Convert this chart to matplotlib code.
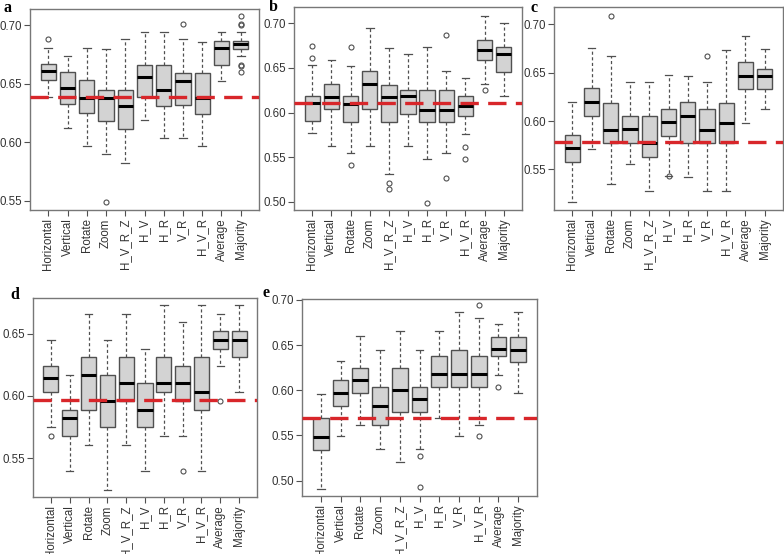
import matplotlib.pyplot as plt

plt.rcParams['font.family'] = ['Liberation Sans', 'DejaVu Sans']

methods = ['Horizontal', 'Vertical', 'Rotate', 'Zoom', 'H_V_R_Z', 'H_V',
           'H_R', 'V_R', 'H_V_R', 'Average', 'Majority']

# panel a
a_lo = [0.639, 0.612, 0.597, 0.590, 0.582, 0.619, 0.604, 0.604, 0.597, 0.652, 0.674]
a_q1 = [0.653, 0.633, 0.625, 0.618, 0.611, 0.639, 0.631, 0.632, 0.624, 0.666, 0.680]
a_med = [0.661, 0.646, 0.638, 0.638, 0.631, 0.656, 0.645, 0.652, 0.638, 0.681, 0.684]
a_q3 = [0.667, 0.660, 0.653, 0.645, 0.645, 0.666, 0.666, 0.659, 0.659, 0.687, 0.687]
a_hi = [0.681, 0.674, 0.681, 0.680, 0.688, 0.694, 0.694, 0.688, 0.686, 0.694, 0.694]
a_out = [[0.688], [], [], [0.549], [], [], [], [0.701], [], [],
         [0.708, 0.701, 0.700, 0.666, 0.665, 0.660]]
a_ref = 0.6386

# panel b
b_lo = [0.577, 0.563, 0.555, 0.563, 0.531, 0.563, 0.548, 0.555, 0.576, 0.632, 0.618]
b_q1 = [0.591, 0.604, 0.589, 0.604, 0.589, 0.598, 0.589, 0.589, 0.596, 0.659, 0.645]
b_med = [0.611, 0.617, 0.610, 0.632, 0.617, 0.618, 0.603, 0.603, 0.607, 0.670, 0.666]
b_q3 = [0.618, 0.632, 0.618, 0.646, 0.631, 0.625, 0.625, 0.625, 0.618, 0.681, 0.673]
b_hi = [0.653, 0.659, 0.652, 0.694, 0.672, 0.666, 0.673, 0.646, 0.639, 0.708, 0.700]
b_out = [[0.674, 0.661], [], [0.673, 0.541], [], [0.521, 0.514], [], [0.499],
         [0.687, 0.527], [0.562, 0.548], [0.625], []]
b_ref = 0.611

# panel c
c_lo = [0.516, 0.571, 0.535, 0.556, 0.528, 0.543, 0.542, 0.528, 0.528, 0.598, 0.612]
c_q1 = [0.558, 0.605, 0.577, 0.577, 0.563, 0.585, 0.577, 0.577, 0.577, 0.633, 0.633]
c_med = [0.572, 0.620, 0.591, 0.592, 0.577, 0.599, 0.605, 0.591, 0.598, 0.647, 0.647]
c_q3 = [0.586, 0.634, 0.619, 0.605, 0.605, 0.613, 0.620, 0.613, 0.619, 0.661, 0.654]
c_hi = [0.620, 0.676, 0.667, 0.640, 0.640, 0.648, 0.647, 0.640, 0.674, 0.688, 0.675]
c_out = [[], [], [0.709], [], [], [0.543], [], [0.667], [], [], []]
c_ref = 0.578

# panel d
d_lo = [0.575, 0.540, 0.561, 0.525, 0.561, 0.540, 0.568, 0.568, 0.540, 0.624, 0.603]
d_q1 = [0.603, 0.568, 0.589, 0.575, 0.596, 0.575, 0.603, 0.596, 0.589, 0.638, 0.631]
d_med = [0.614, 0.582, 0.617, 0.596, 0.610, 0.589, 0.610, 0.610, 0.603, 0.645, 0.645]
d_q3 = [0.624, 0.589, 0.631, 0.617, 0.631, 0.610, 0.631, 0.624, 0.631, 0.652, 0.652]
d_hi = [0.645, 0.617, 0.666, 0.645, 0.666, 0.638, 0.673, 0.659, 0.673, 0.666, 0.673]
d_out = [[0.568], [], [], [], [], [], [], [0.540], [], [0.596], []]
d_ref = 0.597

# panel e
e_lo = [0.491, 0.549, 0.562, 0.535, 0.521, 0.535, 0.569, 0.549, 0.562, 0.617, 0.597]
e_q1 = [0.534, 0.583, 0.597, 0.562, 0.576, 0.576, 0.604, 0.604, 0.604, 0.638, 0.631]
e_med = [0.548, 0.597, 0.611, 0.583, 0.600, 0.590, 0.618, 0.618, 0.618, 0.646, 0.645]
e_q3 = [0.569, 0.611, 0.625, 0.604, 0.625, 0.604, 0.638, 0.645, 0.638, 0.659, 0.659]
e_hi = [0.596, 0.632, 0.660, 0.645, 0.666, 0.645, 0.666, 0.687, 0.680, 0.673, 0.687]
e_out = [[], [], [], [], [], [0.527, 0.493], [], [], [0.694, 0.549], [0.604], []]
e_ref = 0.569

panels = [
    ('a', a_lo, a_q1, a_med, a_q3, a_hi, a_out, a_ref, (0.542, 0.714), [0.55, 0.60, 0.65, 0.70]),
    ('b', b_lo, b_q1, b_med, b_q3, b_hi, b_out, b_ref, (0.491, 0.718), [0.50, 0.55, 0.60, 0.65, 0.70]),
    ('c', c_lo, c_q1, c_med, c_q3, c_hi, c_out, c_ref, (0.508, 0.718), [0.55, 0.60, 0.65, 0.70]),
    ('d', d_lo, d_q1, d_med, d_q3, d_hi, d_out, d_ref, (0.519, 0.6785), [0.55, 0.60, 0.65]),
    ('e', e_lo, e_q1, e_med, e_q3, e_hi, e_out, e_ref, (0.483, 0.701), [0.50, 0.55, 0.60, 0.65, 0.70]),
]

# axes rectangles in pixels (left, top, right, bottom) and panel letter spots
rects = [(30, 9, 259, 210), (294, 7, 522, 210), (554, 7, 783, 210),
         (33, 298, 257, 497), (302, 299, 537, 496)]
letter_xy = [(7, 8), (273, 7), (534, 8), (15, 295), (266, 293)]

W, H = 784, 554
fig = plt.figure(figsize=(W / 100, H / 100), dpi=100)

edge = '#505050'
for (lab, lo, q1, med, q3, hi, out, ref, ylim, yt), (l, t, r, b), (lx, ly) in zip(panels, rects, letter_xy):
    ax = fig.add_axes([l / W, (H - b) / H, (r - l) / W, (b - t) / H])
    stats = []
    for i in range(len(methods)):
        stats.append({'med': med[i], 'q1': q1[i], 'q3': q3[i],
                      'whislo': lo[i], 'whishi': hi[i], 'fliers': out[i],
                      'label': methods[i]})
    ax.bxp(stats, positions=range(1, 12), widths=0.8, patch_artist=True,
           boxprops=dict(facecolor='#d3d3d3', edgecolor=edge, linewidth=1.0),
           medianprops=dict(color='black', linewidth=2.2, solid_capstyle='butt'),
           whiskerprops=dict(color=edge, linewidth=0.9, linestyle=(0, (2.5, 2))),
           capprops=dict(color=edge, linewidth=0.9),
           capwidths=0.4,
           flierprops=dict(marker='o', markersize=3.6, markerfacecolor='none',
                           markeredgecolor=edge, markeredgewidth=0.8))
    ax.axhline(ref, color='#d8262a', linewidth=2.4, linestyle=(0, (5.5, 2.8)), zorder=5)
    ax.set_xlim(0.05, 11.95)
    ax.set_ylim(*ylim)
    ax.set_yticks(yt)
    ax.set_yticklabels([f'{v:.2f}' for v in yt])
    ax.set_xticks(range(1, 12))
    ax.set_xticklabels(methods, rotation=90)
    ax.tick_params(axis='both', colors=edge, labelcolor='#333333', labelsize=8.3,
                   length=4, width=0.8, pad=2)
    for s in ax.spines.values():
        s.set_color('#777777')
        s.set_linewidth(1.0)
    fig.text(lx / W, 1 - ly / H, lab, fontsize=11.5, fontweight='bold',
             family='Liberation Serif', ha='center', va='center')

fig.savefig('out.png', dpi=100)
